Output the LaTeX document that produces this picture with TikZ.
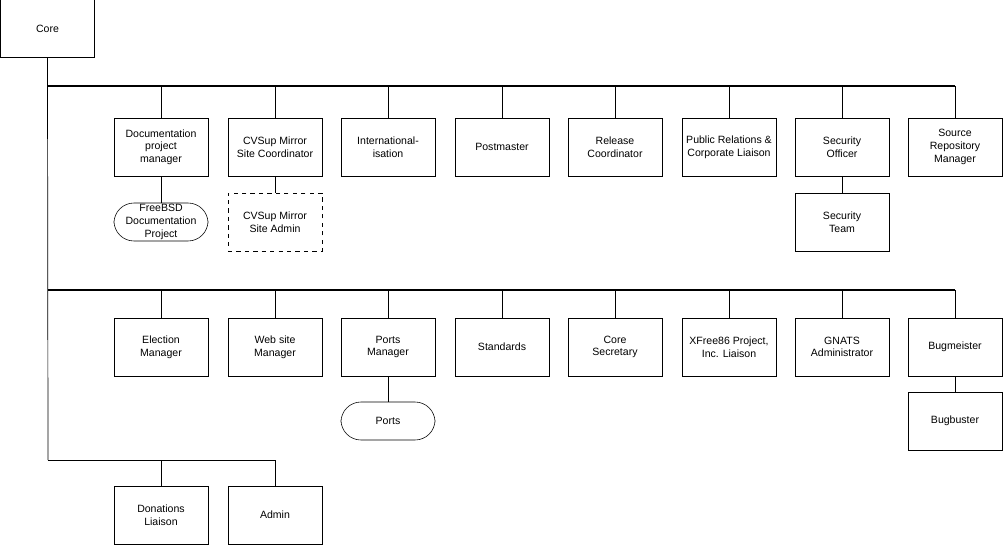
\documentclass[tikz,border=0pt]{standalone}
\usepackage{fontspec}
\setmainfont{Liberation Sans}
\begin{document}
\begin{tikzpicture}[x=0.025cm,y=-0.025cm,
    box/.style={draw, minimum width=2.35cm, minimum height=1.45cm, align=center, font=\fontsize{7.5}{9}\selectfont, inner sep=1pt},
    team/.style={box, rounded corners=0.5cm, minimum height=0.95cm},
    link/.style={line width=0.5pt}]
  \useasboundingbox (0,0) rectangle (1003,545);

  % Core
  \node[box] (core) at (47.5,28.5) {Core};
  \coordinate (top) at (48,86);
  \coordinate (mid) at (48,290);
  \coordinate (low) at (48,460);

  % first row
  \foreach \n/\x/\t in {doc/161/{Documentation\\project\\manager}, cvsup/275/{CVSup Mirror\\Site Coordinator},
      intl/388/{International-\\isation}, post/502/Postmaster, rel/615/{Release\\Coordinator},
      pr/729/{Public Relations \&\\Corporate Liaison}, sec/842/{Security\\Officer}, src/955/{Source\\Repository\\Manager}}{
    \node[box] (\n) at (\x,147) {\t};
    \draw[link] (\n.north) -- (\x,86);
  }
  % second row
  \foreach \n/\x/\t in {elect/161/{Election\\Manager}, web/275/{Web site\\Manager}, ports/388/{Ports\\Manager},
      std/502/Standards, csec/615/{Core\\Secretary}, xf/729/{XFree86 Project,\\Inc. Liaison},
      gnats/842/{GNATS\\Administrator}, bug/955/Bugmeister}{
    \node[box] (\n) at (\x,347) {\t};
    \draw[link] (\n.north) -- (\x,290);
  }
  % third row
  \foreach \n/\x/\t in {don/161/{Donations\\Liaison}, adm/275/Admin}{
    \node[box] (\n) at (\x,515) {\t};
    \draw[link] (\n.north) -- (\x,460);
  }

  % sub-units
  \node[team] (fdp) at (161,222) {FreeBSD\\Documentation\\Project};
  \node[box, dashed] (cvadm) at (275,222) {CVSup Mirror\\Site Admin};
  \node[box] (steam) at (842,222) {Security\\Team};
  \node[team] (portsteam) at (388,421) {Ports};
  \node[box] (bbust) at (955,421) {Bugbuster};
  \draw[link] (doc) -- (fdp);
  \draw[link] (cvsup) -- (cvadm);
  \draw[link] (sec) -- (steam);
  \draw[link] (ports) -- (portsteam);
  \draw[link] (bug) -- (bbust);

  % trunk
  \draw[link] (core.south) -- (low);
  \draw[line width=1pt] (top) -- (955,86);
  \draw[line width=1pt] (mid) -- (955,290);
  \draw[link] (low) -- (275,460);
\end{tikzpicture}
\end{document}
